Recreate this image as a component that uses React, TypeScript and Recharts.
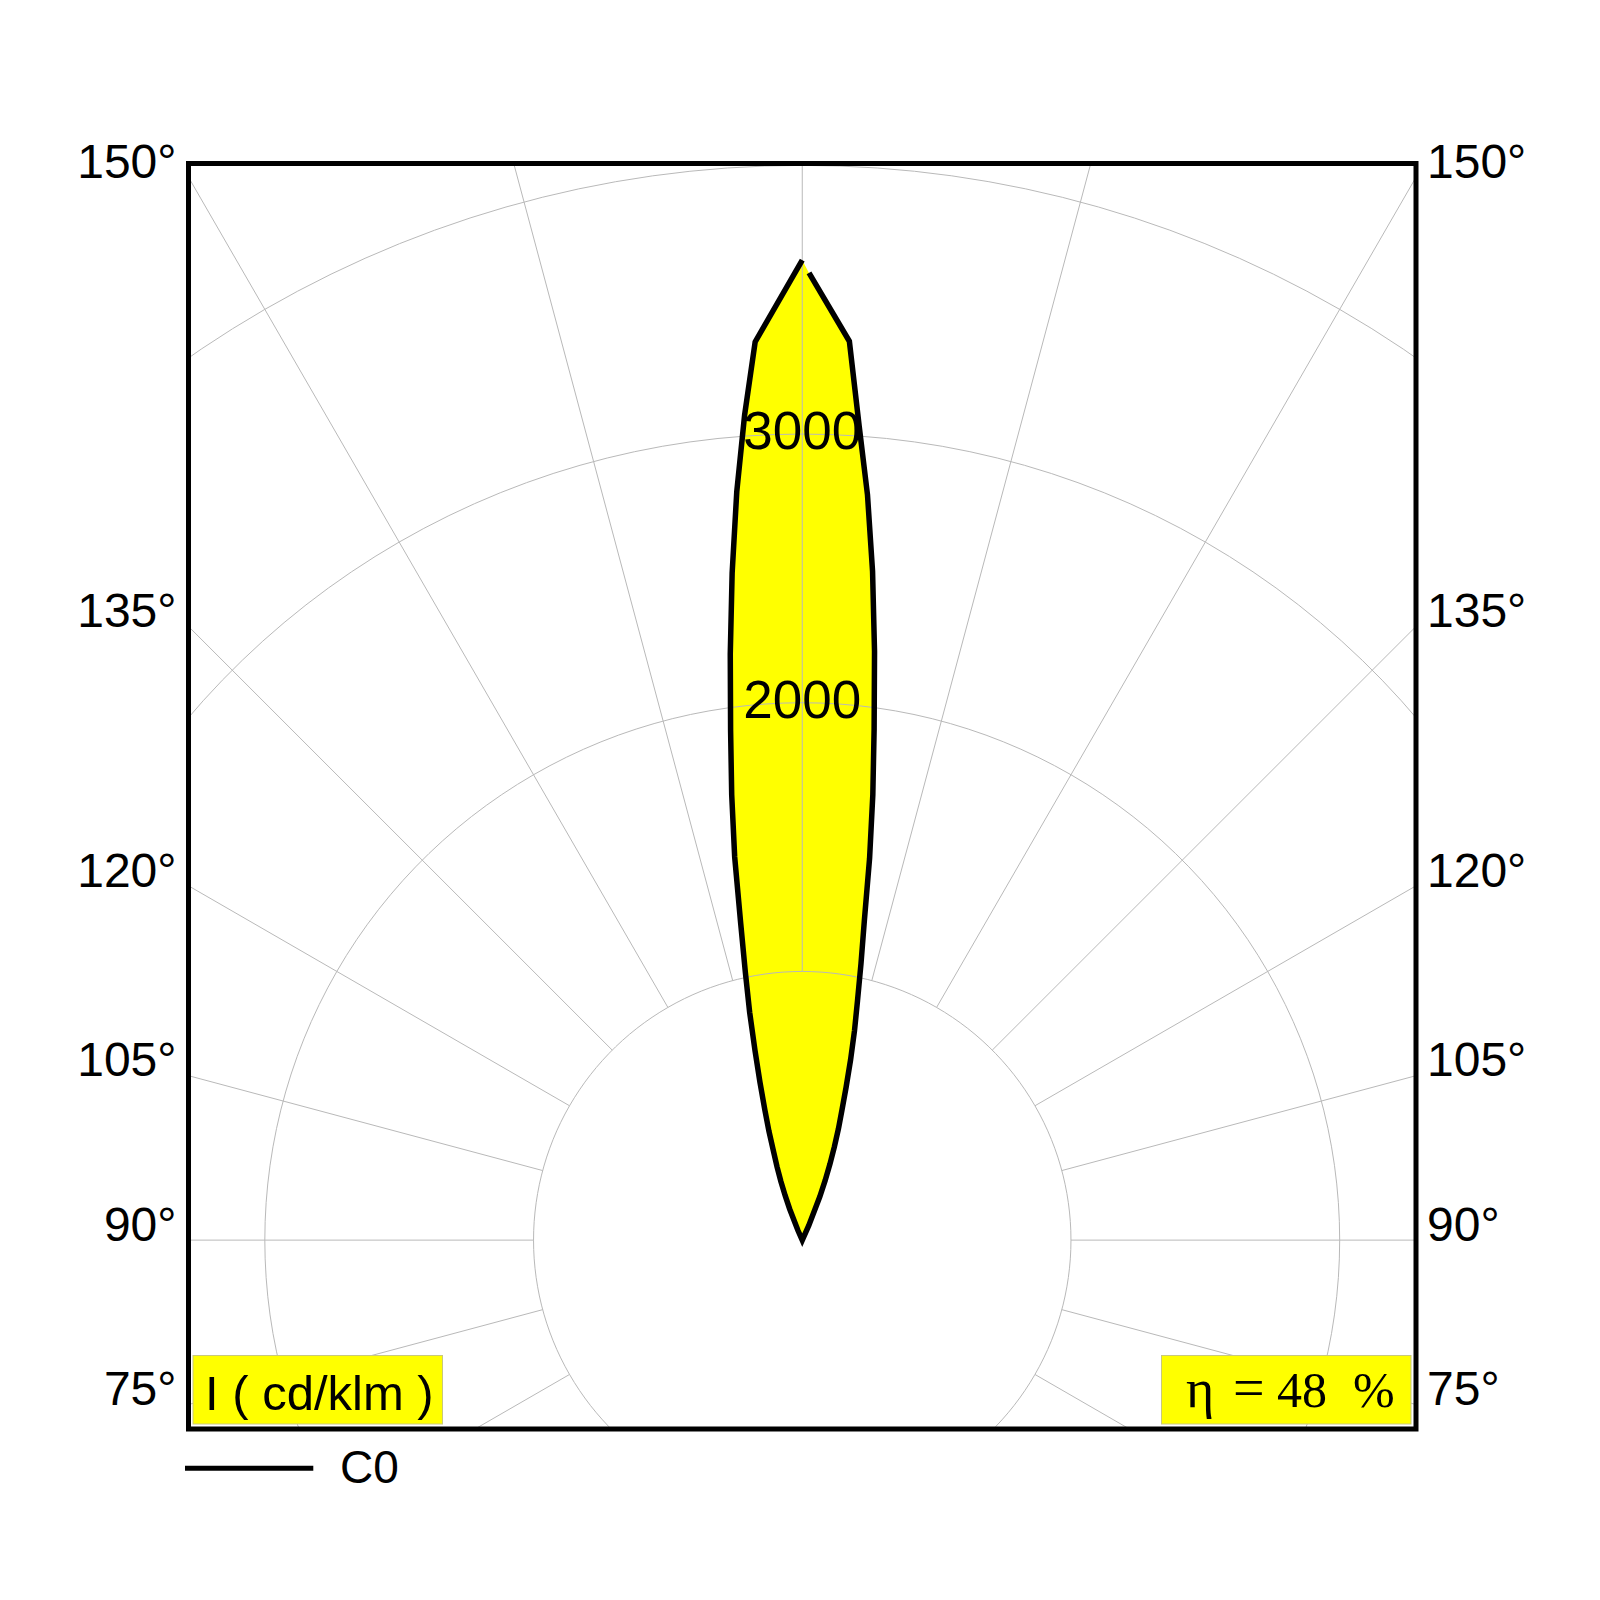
import React from 'react';
import { ScatterChart, Scatter, XAxis, YAxis, ReferenceArea, ReferenceDot } from 'recharts';

// luminous intensity (cd/klm) against the angle from the beam axis (degrees)
// left half of the curve
const leftAngles = [0, 3, 4, 5, 6, 7, 8, 9, 10, 11, 12, 13, 14, 15, 16, 17, 18, 19, 20, 21, 22, 24];
const leftValues = [3647, 3348, 3077, 2796, 2496, 2198, 1916, 1678, 1448, 1200, 1018, 870, 726, 608, 506, 424, 344, 288, 233, 177, 125, 40];
// right half of the curve (C0)
const rightAngles = [0.4, 3, 4, 5, 6, 7, 8, 9, 10, 11, 12, 13, 14, 15, 16, 17, 18, 19, 20, 21, 22, 24];
const rightValues = [3600, 3350, 3037, 2785, 2503, 2207, 1922, 1679, 1443, 1211, 1051, 914, 804, 695, 592, 505, 436, 367, 302, 238, 174, 60];

const gridRadii = [1000, 2000, 3000, 4000];
const radiusLabels = [2000, 3000];
const spokeAngles = [0, 15, 30, 45, 60, 75, 90, 105, 120, 135, 150, 165, 180, 195, 210, 225, 240, 255, 270, 285, 300, 315, 330, 345];
const sideAngles = [75, 90, 105, 120, 135, 150];

const X_HALF = 2284;
const Y_MIN = -703;
const Y_MAX = 4007;

const FONT = '"Liberation Sans", Arial, Helvetica, sans-serif';
const SERIF = '"Liberation Serif", "Times New Roman", serif';
const GRID = '#b9b9b9';

const rad = (d: number) => (d * Math.PI) / 180;

const leftPts = leftAngles.map((a, i) => ({ x: -leftValues[i] * Math.sin(rad(a)), y: leftValues[i] * Math.cos(rad(a)) }));
const rightPts = rightAngles.map((a, i) => ({ x: rightValues[i] * Math.sin(rad(a)), y: rightValues[i] * Math.cos(rad(a)) }));
const origin = { x: 0, y: 0 };
const fillPts = [origin, ...[...leftPts].reverse(), ...rightPts];
const strokePts = [...rightPts, origin, ...[...leftPts].reverse()];

// grid geometry (angles measured from nadir)
const circlePts = (r: number) =>
  Array.from({ length: 181 }, (_, i) => ({ x: r * Math.sin(rad(i * 2)), y: r * Math.cos(rad(i * 2)) }));
const spokePts = (a: number) => [
  { x: 1000 * Math.sin(rad(a)), y: -1000 * Math.cos(rad(a)) },
  { x: 6000 * Math.sin(rad(a)), y: -6000 * Math.cos(rad(a)) },
];

// where each angle line meets the side of the frame
const sideTicks = sideAngles.map((a) => X_HALF * Math.tan(rad(a - 90)));

const noDot = () => <g />;

const AngleTick = (props: any) => {
  const { x, y, index, side } = props;
  const left = side === 'left';
  return (
    <text
      x={x + (left ? -12 : 11)}
      y={y - 16.5}
      dy="0.36em"
      textAnchor={left ? 'end' : 'start'}
      fontFamily={FONT}
      fontSize={48}
      fill="#000"
    >
      {sideAngles[index]}°
    </text>
  );
};

const App = () => {
  return (
    <div style={{ position: 'relative', width: 1584, height: 1584, background: '#fff' }}>
      <ScatterChart
        width={1584}
        height={1584}
        margin={{ top: 155.5, right: 0, bottom: 163, left: 0.5 }}
      >
        <XAxis type="number" dataKey="x" domain={[-X_HALF, X_HALF]} allowDataOverflow hide />
        <YAxis
          yAxisId="left"
          type="number"
          dataKey="y"
          domain={[Y_MIN, Y_MAX]}
          allowDataOverflow
          width={180}
          ticks={sideTicks}
          interval={0}
          tickSize={0}
          tickMargin={0}
          axisLine={false}
          tickLine={false}
          tick={(p: any) => <AngleTick {...p} side="left" />}
        />
        <YAxis
          yAxisId="right"
          orientation="right"
          type="number"
          dataKey="y"
          domain={[Y_MIN, Y_MAX]}
          allowDataOverflow
          width={176}
          ticks={sideTicks}
          interval={0}
          tickSize={0}
          tickMargin={0}
          axisLine={false}
          tickLine={false}
          tick={(p: any) => <AngleTick {...p} side="right" />}
        />

        <Scatter
          yAxisId="left"
          data={fillPts}
          line={{ fill: '#ffff00', stroke: 'none' }}
          shape={noDot}
          legendType="none"
          isAnimationActive={false}
        />
        {gridRadii.map((r) => (
          <Scatter
            key={`c${r}`}
            yAxisId="left"
            data={circlePts(r)}
            line={{ stroke: GRID, strokeWidth: 1, fill: 'none' }}
            shape={noDot}
            legendType="none"
            isAnimationActive={false}
          />
        ))}
        {spokeAngles.map((a) => (
          <Scatter
            key={`s${a}`}
            yAxisId="left"
            data={spokePts(a)}
            line={{ stroke: GRID, strokeWidth: 1, fill: 'none' }}
            shape={noDot}
            legendType="none"
            isAnimationActive={false}
          />
        ))}
        <Scatter
          yAxisId="left"
          data={strokePts}
          line={{ stroke: '#000', strokeWidth: 5.5, fill: 'none', strokeLinejoin: 'miter' }}
          shape={noDot}
          legendType="none"
          isAnimationActive={false}
        />

        {radiusLabels.map((r) => (
          <ReferenceDot
            key={`l${r}`}
            yAxisId="left"
            x={0}
            y={r}
            r={0}
            fill="none"
            stroke="none"
            label={{ value: String(r), position: 'top', offset: -15, fontSize: 53, fill: '#000', fontFamily: FONT }}
          />
        ))}

        <ReferenceArea
          yAxisId="left"
          x1={-X_HALF}
          x2={X_HALF}
          y1={Y_MIN}
          y2={Y_MAX}
          fill="none"
          fillOpacity={0}
          stroke="#000"
          strokeWidth={5}
          ifOverflow="visible"
          zIndex={700}
        />
      </ScatterChart>

      <svg
        width={1584}
        height={1584}
        style={{ position: 'absolute', left: 0, top: 0, pointerEvents: 'none' }}
      >
        <rect x={185} y={1347.5} width={249.5} height={68.5} fill="#ffff00" stroke="#c8c87e" strokeWidth={1} />
        <text x={197} y={1402} fontFamily={FONT} fontSize={49} fill="#000">
          I ( cd/klm )
        </text>
        <rect x={1153.5} y={1347.5} width={249.5} height={68.5} fill="#ffff00" stroke="#c8c87e" strokeWidth={1} />
        <text y={1399} fontFamily={SERIF} fontSize={50} fill="#000">
          <tspan x={1178} fontSize={54}>η</tspan>
          <tspan x={1225} fontSize={56}>=</tspan>
          <tspan x={1269}>48</tspan>
          <tspan x={1345}>%</tspan>
        </text>
        <line x1={177} y1={1460.3} x2={305.3} y2={1460.3} stroke="#000" strokeWidth={5} />
        <text x={332} y={1475} fontFamily={FONT} fontSize={46} fill="#000">
          C0
        </text>
      </svg>
    </div>
  );
};

export default App;
